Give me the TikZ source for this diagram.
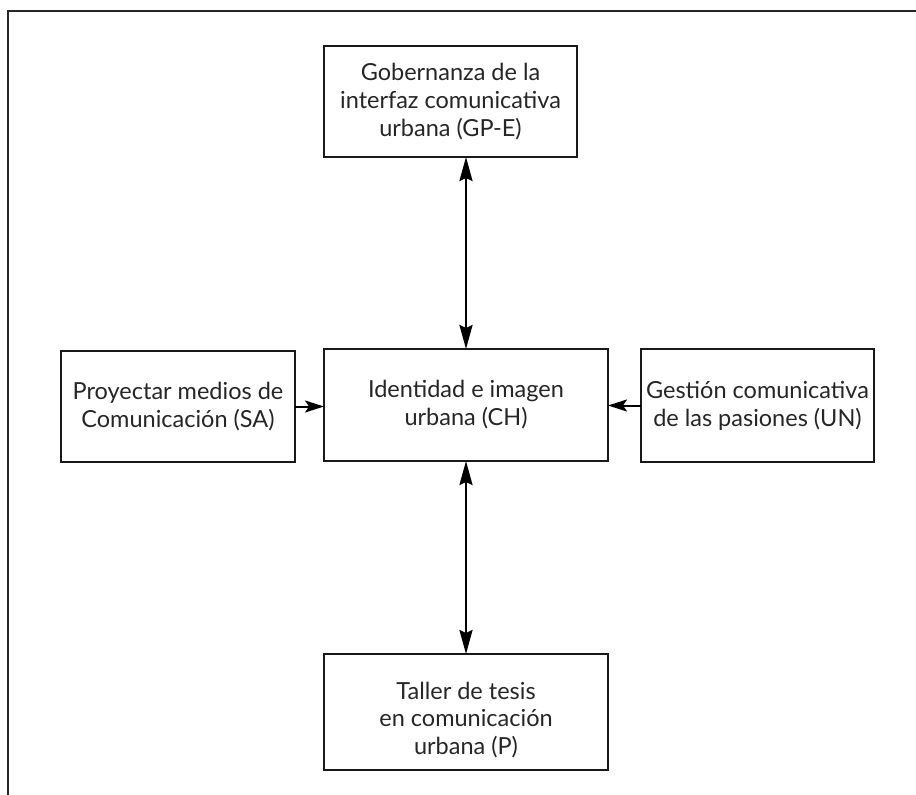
\documentclass[tikz,border=0pt]{standalone}
\usepackage{fontspec}
\setmainfont{Lato}
\usetikzlibrary{arrows.meta}
\begin{document}
\begin{tikzpicture}[x=1pt,y=-1pt,
  box/.style={draw=black!90,line width=1.3pt,rectangle,align=center,inner sep=0pt,outer sep=0pt,
    font=\fontsize{23.5}{28}\selectfont,text=black!85},
  txt/.style={align=center,inner sep=0pt,font=\fontsize{23.5}{27.5}\selectfont,text=black!85},
  biarrow/.style={line width=2.6pt,{Stealth[length=24pt,width=13pt,inset=3pt]}-{Stealth[length=24pt,width=13pt,inset=3pt]}},
  onearrow/.style={line width=2pt,-{Stealth[length=19pt,width=12pt,inset=4pt]}}]
\useasboundingbox (0,0) rectangle (916,795);
\draw[line width=2pt,black!85] (8,795) -- (8,10.5) -- (916,10.5);
\node[box,minimum width=253,minimum height=111] (top) at (450.5,101.5) {Gobernanza de la\\interfaz comunicativa\\urbana (GP-E)};
\node[box,minimum width=284,minimum height=112] (mid) at (466,405) {Identidad e imagen\\urbana (CH)};
\node[box,minimum width=234,minimum height=111] (left) at (178,406.5) {Proyectar medios de\\Comunicación (SA)};
\node[box,minimum width=233,minimum height=113] (right) at (757.5,405.5) {Gestión comunicativa\\de las pasiones (UN)};
\node[box,minimum width=284,minimum height=116] (bot) at (466,712) {};
\node[txt] (bottxt) at (466,720) {Taller de tesis\\en comunicación\\urbana (P)};
\draw[biarrow] (mid.north) -- (mid.north |- top.south);
\draw[biarrow] (mid.south) -- (bot.north);
\draw[onearrow] (left.east) -- (left.east -| mid.west);
\draw[onearrow] (right.west) -- (right.west -| mid.east);
\end{tikzpicture}
\end{document}
